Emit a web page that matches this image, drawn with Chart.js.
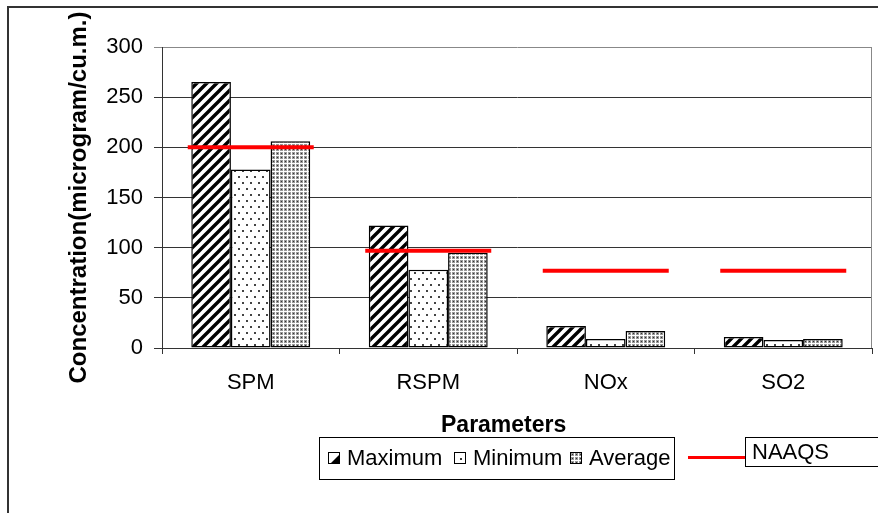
<!DOCTYPE html>
<html>
<head>
<meta charset="utf-8">
<script src="https://cdn.jsdelivr.net/npm/chart.js@4/dist/chart.umd.min.js"></script>
<style>
  html, body { margin: 0; padding: 0; background: #fff; overflow: hidden; }
  body { width: 878px; height: 513px; position: relative; font-family: 'Liberation Sans', Arial, sans-serif; }
  #frame { position: absolute; left: 7px; top: 6px; width: 900px; height: 540px; border: 2px solid #333; box-sizing: border-box; }
  #wrap { position: absolute; left: 0; top: 0; width: 878px; height: 513px; }
  #xtitle { position: absolute; left: 441px; top: 411px; font-weight: bold; font-size: 23px; line-height: 26px; color: #000; }
  #legend { position: absolute; left: 319px; top: 437px; width: 356px; height: 43px; border: 1px solid #000; box-sizing: border-box; }
  .item { position: absolute; top: 8px; font-size: 22px; line-height: 24px; color: #000; }
  .sw { position: absolute; top: 14px; width: 12px; height: 12px; border: 1px solid #000; box-sizing: border-box; }
  #naaqsLine { position: absolute; left: 688px; top: 456px; width: 57px; height: 3px; background: #ff0000; }
  #naaqsBox { position: absolute; left: 745px; top: 437px; width: 160px; height: 30px; border: 1px solid #000; box-sizing: border-box; font-size: 22px; line-height: 28px; padding-left: 6px; }
</style>
</head>
<body>
<div id="frame"></div>
<div id="wrap"><canvas id="chart" width="878" height="513"></canvas></div>
<div id="xtitle">Parameters</div>
<div id="legend">
  <div class="sw" id="swMax" style="left:8px"></div><div class="item" style="left:27px">Maximum</div>
  <div class="sw" id="swMin" style="left:134px"></div><div class="item" style="left:153px">Minimum</div>
  <div class="sw" id="swAvg" style="left:250px"></div><div class="item" style="left:269px">Average</div>
</div>
<div id="naaqsLine"></div>
<div id="naaqsBox">NAAQS</div>
<script>
// Ambient air quality: concentration per parameter (microgram/cu.m.)
const categories = ['SPM', 'RSPM', 'NOx', 'SO2'];
const maximum = [265, 122, 22, 11];
const minimum = [178, 78, 9, 8];
const average = [206, 95, 17, 9];
const naaqs = [200, 97, 77, 77];
const yTicks = [0, 50, 100, 150, 200, 250, 300];

const FONT = "'Liberation Sans', Arial, sans-serif";

// Fill patterns for the three bar series
function makeTile(w, h, draw) {
  const c = document.createElement('canvas');
  c.width = w; c.height = h;
  const g = c.getContext('2d');
  draw(g, w, h);
  return c;
}
const tileMax = makeTile(10, 10, (g, w, h) => {
  g.fillStyle = '#fff'; g.fillRect(0, 0, w, h);
  g.strokeStyle = '#000'; g.lineWidth = 3.4;
  g.beginPath();
  g.moveTo(-5, 5); g.lineTo(5, -5);
  g.moveTo(0, 10); g.lineTo(10, 0);
  g.moveTo(5, 15); g.lineTo(15, 5);
  g.stroke();
});
const tileMin = makeTile(8, 12, (g, w, h) => {
  g.fillStyle = '#fff'; g.fillRect(0, 0, w, h);
  g.fillStyle = '#444';
  g.fillRect(2, 2, 2, 2);
  g.fillRect(6, 8, 2, 2);
});
const tileAvg = makeTile(4, 4, (g, w, h) => {
  g.fillStyle = '#fff'; g.fillRect(0, 0, w, h);
  g.fillStyle = '#999'; g.fillRect(0, 0, 3, 3);
  g.fillStyle = '#333'; g.fillRect(1, 1, 1, 1);
});

const ctx = document.getElementById('chart').getContext('2d');
const patMax = ctx.createPattern(tileMax, 'repeat');
const patMin = ctx.createPattern(tileMin, 'repeat');
const patAvg = ctx.createPattern(tileAvg, 'repeat');

// Legend swatches
document.getElementById('swMax').style.background = 'url(' + makeTile(12, 12, (g) => {
  g.fillStyle = '#fff'; g.fillRect(0, 0, 12, 12);
  g.fillStyle = '#000'; g.beginPath(); g.moveTo(12, 0); g.lineTo(12, 12); g.lineTo(0, 12); g.closePath(); g.fill();
}).toDataURL() + ')';
document.getElementById('swMin').style.background = 'url(' + makeTile(12, 12, (g) => {
  g.fillStyle = '#fff'; g.fillRect(0, 0, 12, 12);
  g.fillStyle = '#333'; g.fillRect(5, 5, 2, 2);
}).toDataURL() + ')';
document.getElementById('swAvg').style.background = 'url(' + tileAvg.toDataURL() + ')';

// Grey frame line on the right edge of the plot area
const plotEdge = {
  id: 'plotEdge',
  afterDatasetsDraw(chart) {
    const a = chart.chartArea, g = chart.ctx;
    g.save();
    g.strokeStyle = '#888'; g.lineWidth = 1;
    g.beginPath(); g.moveTo(a.right - 0.5, a.top); g.lineTo(a.right - 0.5, a.bottom); g.stroke();
    g.restore();
  }
};

const barCommon = { borderColor: '#000', borderWidth: 1.5, borderSkipped: false, categoryPercentage: 0.67, barPercentage: 1, order: 1 };

new Chart(ctx, {
  type: 'bar',
  data: {
    labels: categories,
    datasets: [
      Object.assign({ label: 'Maximum', data: maximum, backgroundColor: patMax }, barCommon),
      Object.assign({ label: 'Minimum', data: minimum, backgroundColor: patMin }, barCommon),
      Object.assign({ label: 'Average', data: average, backgroundColor: patAvg }, barCommon),
      {
        type: 'line', label: 'NAAQS', data: naaqs, order: 0,
        showLine: false, pointStyle: 'line', pointRadius: 63, pointHoverRadius: 63,
        pointBorderColor: '#ff0000', pointBorderWidth: 4, borderColor: '#ff0000'
      }
    ]
  },
  options: {
    responsive: false,
    animation: false,
    events: [],
    layout: { autoPadding: false, padding: { left: 0, top: 47, right: 6, bottom: 75 } },
    plugins: { legend: { display: false }, tooltip: { enabled: false } },
    scales: {
      x: {
        offset: true,
        grid: { drawOnChartArea: false, drawTicks: true, tickLength: 6, color: '#333', offset: true },
        border: { color: '#333', width: 1 },
        ticks: { color: '#000', padding: 16, font: { family: FONT, size: 22 } },
        afterFit: (s) => { s.height = 90; }
      },
      y: {
        min: 0, max: 300,
        afterBuildTicks: (s) => { s.ticks = yTicks.map(v => ({ value: v })); },
        grid: { tickLength: 8, color: (c) => (c.tick && c.tick.value === 300 ? '#888' : '#333') },
        border: { color: '#333', width: 1 },
        ticks: { color: '#000', padding: 11, font: { family: FONT, size: 22 } },
        title: {
          display: true, text: 'Concentration(microgram/cu.m.)', color: '#000',
          padding: { top: 65, bottom: 0 },
          font: { family: FONT, size: 24, weight: 'bold' }
        },
        afterFit: (s) => { s.width = 162; }
      }
    }
  },
  plugins: [plotEdge]
});
</script>
</body>
</html>
